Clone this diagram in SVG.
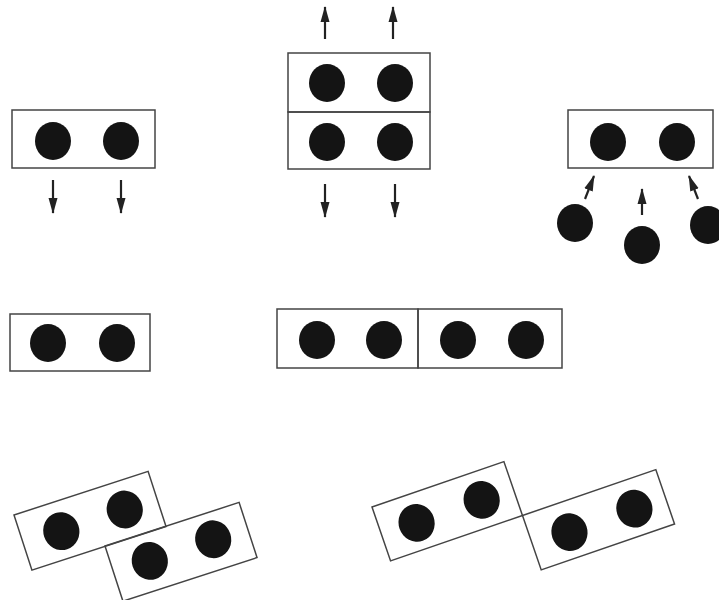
<svg xmlns="http://www.w3.org/2000/svg" width="719" height="600" viewBox="0 0 719 600">
  <style>
    .box { fill: none; stroke: #444; stroke-width: 1.5; }
    .dot { fill: #141414; }
    .arr { stroke: #222; stroke-width: 2.2; fill: none; marker-end: url(#ah); }
  </style>
  <defs>
    <marker id="ah" viewBox="0 0 16 10" refX="15" refY="5" markerWidth="16" markerHeight="10" markerUnits="userSpaceOnUse" orient="auto">
      <path d="M0,0.5 L16,5 L0,9.5 Z" fill="#222"/>
    </marker>
  </defs>
  <rect width="719" height="600" fill="#ffffff"/>

  <!-- Row 1 -->
  <g id="pair-down">
    <rect class="box" x="12" y="110" width="143" height="58"/>
    <ellipse class="dot" cx="53" cy="141" rx="18" ry="19"/>
    <ellipse class="dot" cx="121" cy="141" rx="18" ry="19"/>
  </g>
  <g id="stack-top">
    <rect class="box" x="288" y="53" width="142" height="59"/>
    <ellipse class="dot" cx="327" cy="83" rx="18" ry="19"/>
    <ellipse class="dot" cx="395" cy="83" rx="18" ry="19"/>
  </g>
  <g id="stack-bottom">
    <rect class="box" x="288" y="112" width="142" height="57"/>
    <ellipse class="dot" cx="327" cy="142" rx="18" ry="19"/>
    <ellipse class="dot" cx="395" cy="142" rx="18" ry="19"/>
  </g>
  <g id="pair-in">
    <rect class="box" x="568" y="110" width="145" height="58"/>
    <ellipse class="dot" cx="608" cy="142" rx="18" ry="19"/>
    <ellipse class="dot" cx="677" cy="142" rx="18" ry="19"/>
  </g>
  <g id="free-1"><ellipse class="dot" cx="575" cy="223" rx="18" ry="19"/></g>
  <g id="free-2"><ellipse class="dot" cx="642" cy="245" rx="18" ry="19"/></g>
  <g id="free-3"><ellipse class="dot" cx="708" cy="225" rx="18" ry="19"/></g>

  <!-- Row 2 -->
  <g id="pair-single">
    <rect class="box" x="10" y="314" width="140" height="57"/>
    <ellipse class="dot" cx="48" cy="343" rx="18" ry="19"/>
    <ellipse class="dot" cx="117" cy="343" rx="18" ry="19"/>
  </g>
  <g id="row-left">
    <rect class="box" x="277" y="309" width="141" height="59"/>
    <ellipse class="dot" cx="317" cy="340" rx="18" ry="19"/>
    <ellipse class="dot" cx="384" cy="340" rx="18" ry="19"/>
  </g>
  <g id="row-right">
    <rect class="box" x="418" y="309" width="144" height="59"/>
    <ellipse class="dot" cx="458" cy="340" rx="18" ry="19"/>
    <ellipse class="dot" cx="526" cy="340" rx="18" ry="19"/>
  </g>

  <!-- Row 3 -->
  <g id="tilt-a" transform="translate(14,515) rotate(-18)">
    <rect class="box" x="0" y="0" width="141" height="58"/>
    <ellipse class="dot" cx="40" cy="30" rx="18" ry="19"/>
    <ellipse class="dot" cx="107" cy="29" rx="18" ry="19"/>
  </g>
  <g id="tilt-b" transform="translate(105,546) rotate(-18)">
    <rect class="box" x="0" y="0" width="141" height="58"/>
    <ellipse class="dot" cx="38" cy="28" rx="18" ry="19"/>
    <ellipse class="dot" cx="105" cy="27" rx="18" ry="19"/>
  </g>
  <g id="tilt-c" transform="translate(372,507) rotate(-19)">
    <rect class="box" x="0" y="0" width="139.5" height="57"/>
    <ellipse class="dot" cx="37" cy="29.5" rx="18" ry="19"/>
    <ellipse class="dot" cx="106" cy="29" rx="18" ry="19"/>
  </g>
  <g id="tilt-d" transform="translate(522.5,515.5) rotate(-19)">
    <rect class="box" x="0" y="0" width="141" height="57.5"/>
    <ellipse class="dot" cx="39" cy="31" rx="18" ry="19"/>
    <ellipse class="dot" cx="108" cy="30" rx="18" ry="19"/>
  </g>

  <!-- Connectors -->
  <g id="connectors">
    <line class="arr" x1="53" y1="180" x2="53" y2="213"/>
    <line class="arr" x1="121" y1="180" x2="121" y2="213"/>
    <line class="arr" x1="325" y1="39" x2="325" y2="7"/>
    <line class="arr" x1="393" y1="39" x2="393" y2="7"/>
    <line class="arr" x1="325" y1="184" x2="325" y2="217"/>
    <line class="arr" x1="395" y1="184" x2="395" y2="217"/>
    <line class="arr" x1="585" y1="199" x2="594" y2="176"/>
    <line class="arr" x1="642" y1="215" x2="642" y2="189"/>
    <line class="arr" x1="698" y1="199" x2="689" y2="176"/>
  </g>
</svg>
